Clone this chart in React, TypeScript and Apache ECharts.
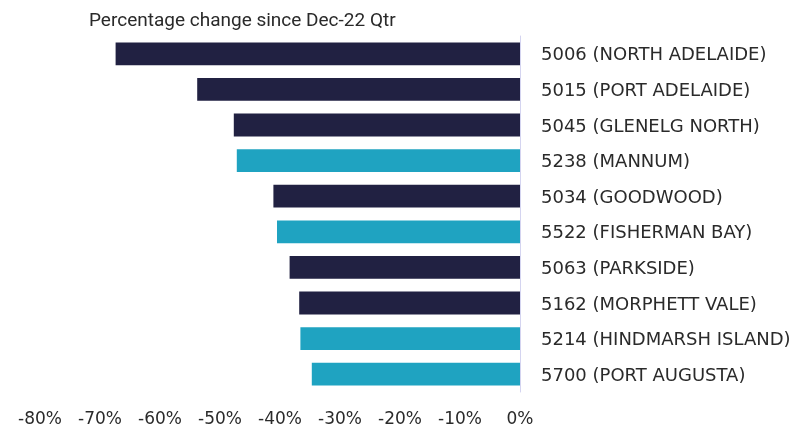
import React, { useEffect, useRef } from "react";
import * as echarts from "echarts";

const categories = [
  "5006 (NORTH ADELAIDE)",
  "5015 (PORT ADELAIDE)",
  "5045 (GLENELG NORTH)",
  "5238 (MANNUM)",
  "5034 (GOODWOOD)",
  "5522 (FISHERMAN BAY)",
  "5063 (PARKSIDE)",
  "5162 (MORPHETT VALE)",
  "5214 (HINDMARSH ISLAND)",
  "5700 (PORT AUGUSTA)",
];
const changePct = [-67.4, -53.8, -47.7, -47.2, -41.1, -40.5, -38.4, -36.8, -36.6, -34.7];
const regionType = ["metro", "metro", "metro", "regional", "metro", "regional", "metro", "metro", "regional", "regional"];
const titleText = "Percentage change since Dec-22 Qtr";

const COLORS: Record<string, string> = { metro: "#212142", regional: "#1fa3c1" };
const TITLE_FONT = "Roboto, sans-serif";
const LABEL_FONT = "'DejaVu Sans', sans-serif";
const TEXT = "#2a2a2a";

export default function App() {
  const ref = useRef<HTMLDivElement>(null);
  useEffect(() => {
    if (!ref.current) return;
    const chart = echarts.init(ref.current, undefined, { renderer: "svg" });
    chart.setOption({
      animation: false,
      title: {
        text: titleText,
        left: 84,
        top: 5,
        textStyle: { fontFamily: TITLE_FONT, fontSize: 19, fontWeight: "normal", color: TEXT },
      },
      grid: { left: 40, right: 291, top: 36, bottom: 36, containLabel: false },
      xAxis: {
        type: "value",
        min: -80,
        max: 0,
        interval: 10,
        axisLine: { show: false },
        axisTick: { show: false },
        splitLine: { show: false },
        axisLabel: {
          formatter: (v: number) => `${v}%`,
          fontFamily: LABEL_FONT,
          fontSize: 17,
          color: TEXT,
          margin: 17,
        },
      },
      yAxis: {
        type: "category",
        data: categories,
        inverse: true,
        position: "right",
        axisLine: { show: true, lineStyle: { color: "#d4d4f0", width: 1 } },
        axisTick: { show: false },
        axisLabel: {
          align: "left",
          margin: 21,
          fontFamily: LABEL_FONT,
          fontSize: 18,
          color: TEXT,
        },
      },
      series: [
        {
          type: "bar",
          data: changePct.map((v, i) => ({ value: v, itemStyle: { color: COLORS[regionType[i]] } })),
          barCategoryGap: "36%",
        },
      ],
    });
    return () => chart.dispose();
  }, []);
  return <div ref={ref} style={{ position: "fixed", left: 0, top: 0, width: 811, height: 428 }} />;
}
